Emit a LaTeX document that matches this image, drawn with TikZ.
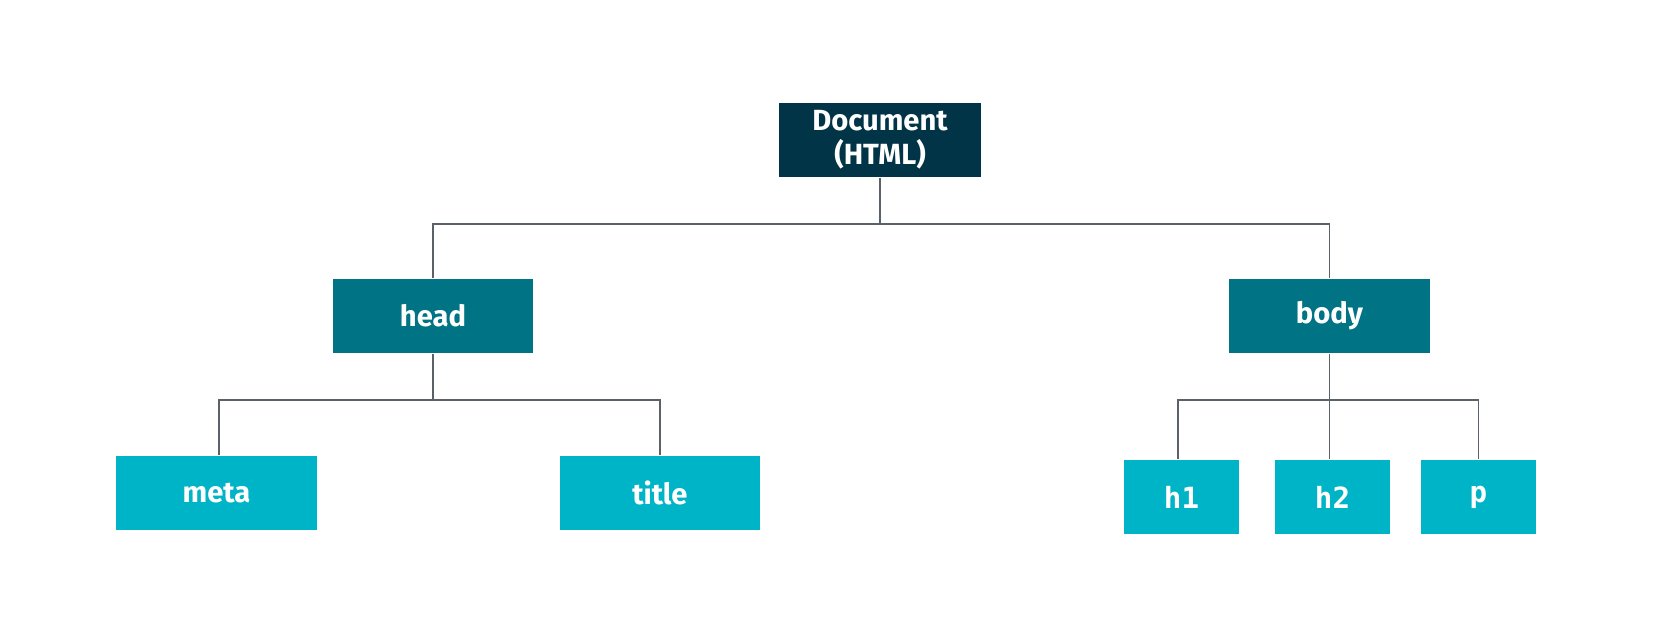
\documentclass[tikz,border=0pt]{standalone}
\usepackage{fontspec}
\setmainfont{Fira Sans}
\newfontfamily\codefont{DejaVu Sans Mono}
\definecolor{docblue}{HTML}{003446}
\definecolor{midteal}{HTML}{007385}
\definecolor{leafcyan}{HTML}{00B4C8}
\definecolor{wiregray}{HTML}{5A6169}
\begin{document}
\begin{tikzpicture}[x=0.01cm,y=-0.01cm]
\tikzstyle{every node}+=[inner sep=0pt, text=white, font=\fontsize{8.3}{9.6}\selectfont\bfseries, align=center]
\tikzstyle{box}=[rectangle, minimum height=0.74cm]
\tikzstyle{wire}=[draw=wiregray, line width=0.45pt]
\useasboundingbox (0,0) rectangle (1680,622);
% nodes
\node [box, fill=docblue, minimum width=2.02cm] (doc) at (880,140) {Document\\(HTML)};
\node [box, fill=midteal, minimum width=2.00cm] (head) at (433,316) {head};
\node [box, fill=midteal, minimum width=2.01cm] (body) at (1329.5,316) {body};
\node [box, fill=leafcyan, minimum width=2.01cm] (meta) at (216.5,493) {meta};
\node [box, fill=leafcyan, minimum width=2.00cm] (title) at (660,493) {title};
\node [box, fill=leafcyan, minimum width=1.15cm, font=\fontsize{8.3}{9.6}\codefont\bfseries] (h1) at (1181.5,497) {h1};
\node [box, fill=leafcyan, minimum width=1.15cm, font=\fontsize{8.3}{9.6}\codefont\bfseries] (h2) at (1332.5,497) {h2};
\node [box, fill=leafcyan, minimum width=1.15cm, font=\fontsize{8.3}{9.6}\codefont\bfseries] (p) at (1478.5,497) {p};
% junctions
\coordinate (jdoc) at (880,224);
\coordinate (jhead) at (433,400);
\coordinate (jbody) at (1329.5,400);
% connectors
\draw [wire] (doc.south) -- (jdoc);
\draw [wire] (jdoc) -| (head.north);
\draw [wire] (jdoc) -| (body.north);
\draw [wire] (head.south) -- (jhead);
\draw [wire] (jhead) -| ([xshift=0.025cm]meta.north);
\draw [wire] (jhead) -| (title.north);
\draw [wire] (body.south) -- (jbody);
\draw [wire] (jbody) -| ([xshift=-0.035cm]h1.north);
\draw [wire] (jbody) -- (jbody |- h2.north);
\draw [wire] (jbody) -| (p.north);
\end{tikzpicture}
\end{document}
